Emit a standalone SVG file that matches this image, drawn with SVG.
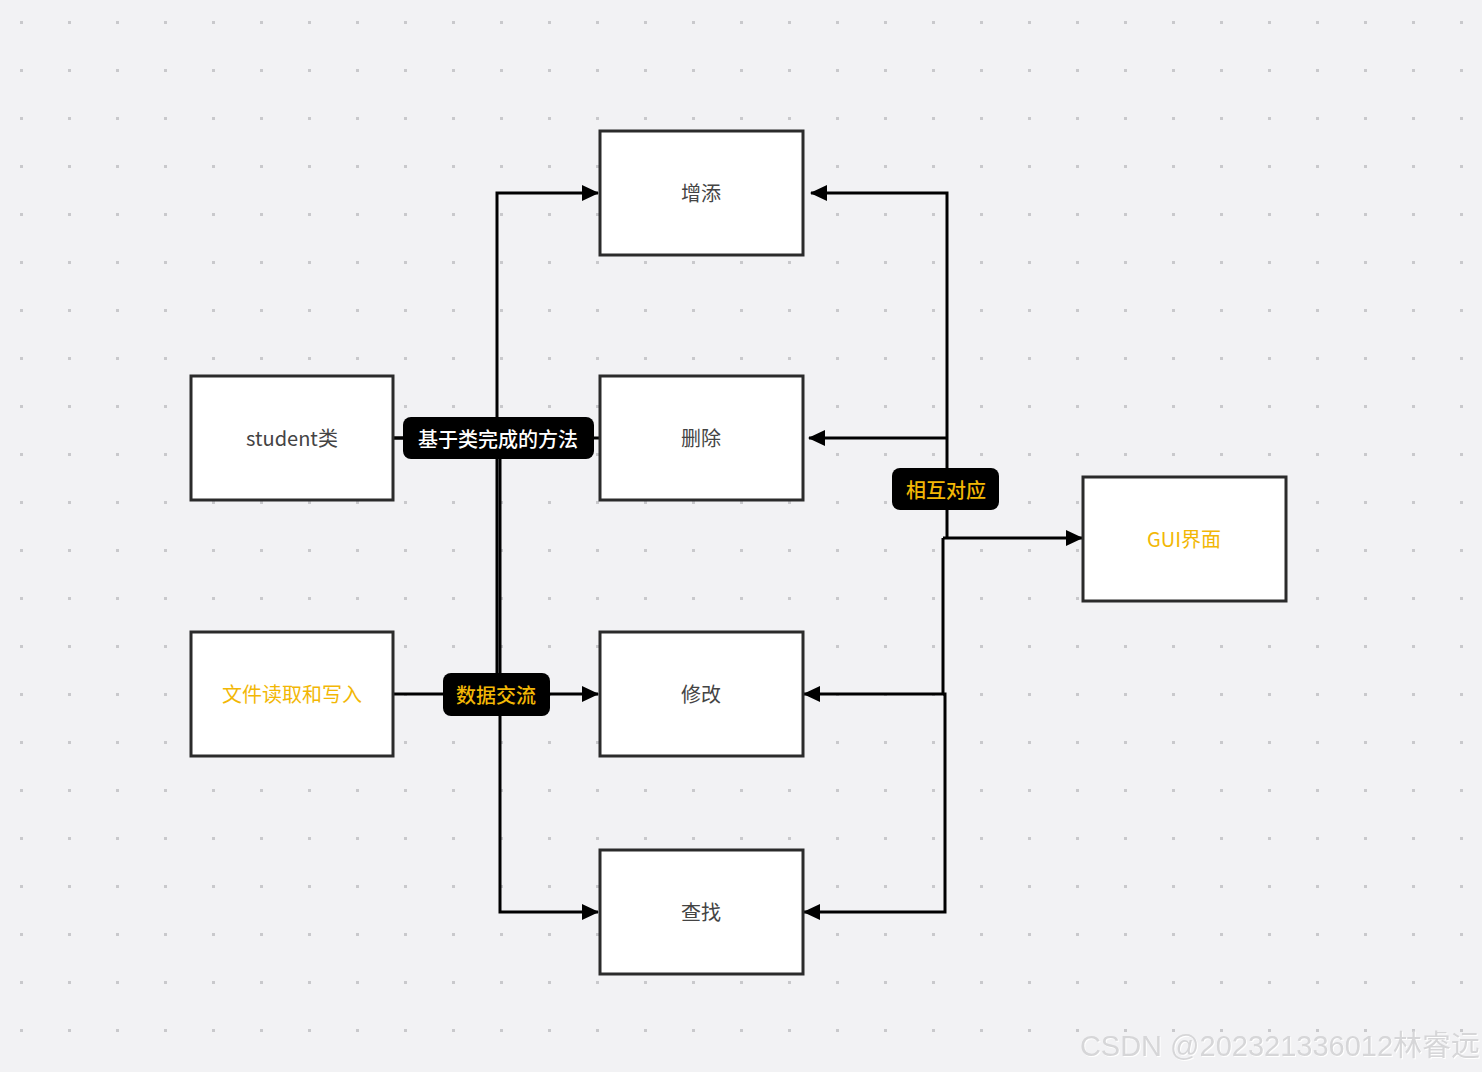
<svg xmlns="http://www.w3.org/2000/svg" width="1482" height="1072" viewBox="0 0 1482 1072">
<defs>
<pattern id="dots" x="0" y="0" width="48" height="48" patternUnits="userSpaceOnUse" patternTransform="translate(-3 -2)">
<rect x="23" y="23" width="3" height="3" fill="#c9c9cc"/>
</pattern>
<marker id="arr" markerWidth="17" markerHeight="16" refX="16" refY="8" orient="auto" markerUnits="userSpaceOnUse">
<path d="M0,0 L17,8 L0,16 Z" fill="#000"/>
</marker>
<filter id="emb" x="-5%" y="-20%" width="110%" height="140%">
<feOffset dx="1" dy="1" in="SourceAlpha" result="o"/>
<feFlood flood-color="#ffffff"/>
<feComposite operator="in" in2="o" result="w"/>
<feMerge><feMergeNode in="w"/><feMergeNode in="SourceGraphic"/></feMerge>
</filter>
</defs>
<style>
.box{fill:#fff;stroke:#2b2b2b;stroke-width:3}
.t{font-family:"Noto Sans CJK SC","Noto Sans",sans-serif;font-size:20px;fill:#444;text-anchor:middle;dominant-baseline:central}
.y{fill:#f2b705}
.c{fill:none;stroke:#000;stroke-width:3}
.lb{fill:#000}
.lt{font-family:"Noto Sans CJK SC","Noto Sans",sans-serif;font-size:20px;font-weight:500;text-anchor:middle;dominant-baseline:central}
</style>
<rect width="1482" height="1072" fill="#f2f2f4"/>
<rect width="1482" height="1072" fill="url(#dots)"/>
<g id="connectors">
<path class="c" d="M393,438 H497 V193 H598" marker-end="url(#arr)"/>
<path class="c" d="M393,438 H599"/>
<path class="c" d="M497,438 V673"/>
<path class="c" d="M393,694 H598" marker-end="url(#arr)"/>
<path class="c" d="M500,459 V912 H598" marker-end="url(#arr)"/>
<path class="c" d="M947,538 V193 H811" marker-end="url(#arr)"/>
<path class="c" d="M947,438 H809" marker-end="url(#arr)"/>
<path class="c" d="M943,538 H1082" marker-end="url(#arr)"/>
<path class="c" d="M943,538 V694 H804" marker-end="url(#arr)"/>
<path class="c" d="M943,694 L945,694 V912 H804" marker-end="url(#arr)"/>
</g>
<g id="n-add"><rect class="box" x="600" y="131" width="203" height="124"/><text class="t" x="701" y="192">增添</text></g>
<g id="n-del"><rect class="box" x="600" y="376" width="203" height="124"/><text class="t" x="701" y="437">删除</text></g>
<g id="n-mod"><rect class="box" x="600" y="632" width="203" height="124"/><text class="t" x="701" y="693">修改</text></g>
<g id="n-find"><rect class="box" x="600" y="850" width="203" height="124"/><text class="t" x="701" y="911">查找</text></g>
<g id="n-student"><rect class="box" x="191" y="376" width="202" height="124"/><text class="t" x="292" y="437">student类</text></g>
<g id="n-file"><rect class="box" x="191" y="632" width="202" height="124"/><text class="t y" x="292" y="693">文件读取和写入</text></g>
<g id="n-gui"><rect class="box" x="1083" y="477" width="203" height="124"/><text class="t y" x="1184" y="538">GUI界面</text></g>
<g id="l-method"><rect class="lb" x="403" y="417" width="191" height="42" rx="8"/><text class="lt" x="498" y="438" fill="#fff">基于类完成的方法</text></g>
<g id="l-data"><rect class="lb" x="443" y="673" width="107" height="43" rx="8"/><text class="lt" x="496" y="694" fill="#f2b705">数据交流</text></g>
<g id="l-corr"><rect class="lb" x="892" y="468" width="107" height="42" rx="8"/><text class="lt" x="946" y="489" fill="#f2b705">相互对应</text></g>
<text x="1280" y="1046" font-family="'Liberation Sans','Noto Sans CJK SC',sans-serif" font-size="29" fill="#d6d6d8" text-anchor="middle" dominant-baseline="central" filter="url(#emb)">CSDN @202321336012林睿远</text>
</svg>
